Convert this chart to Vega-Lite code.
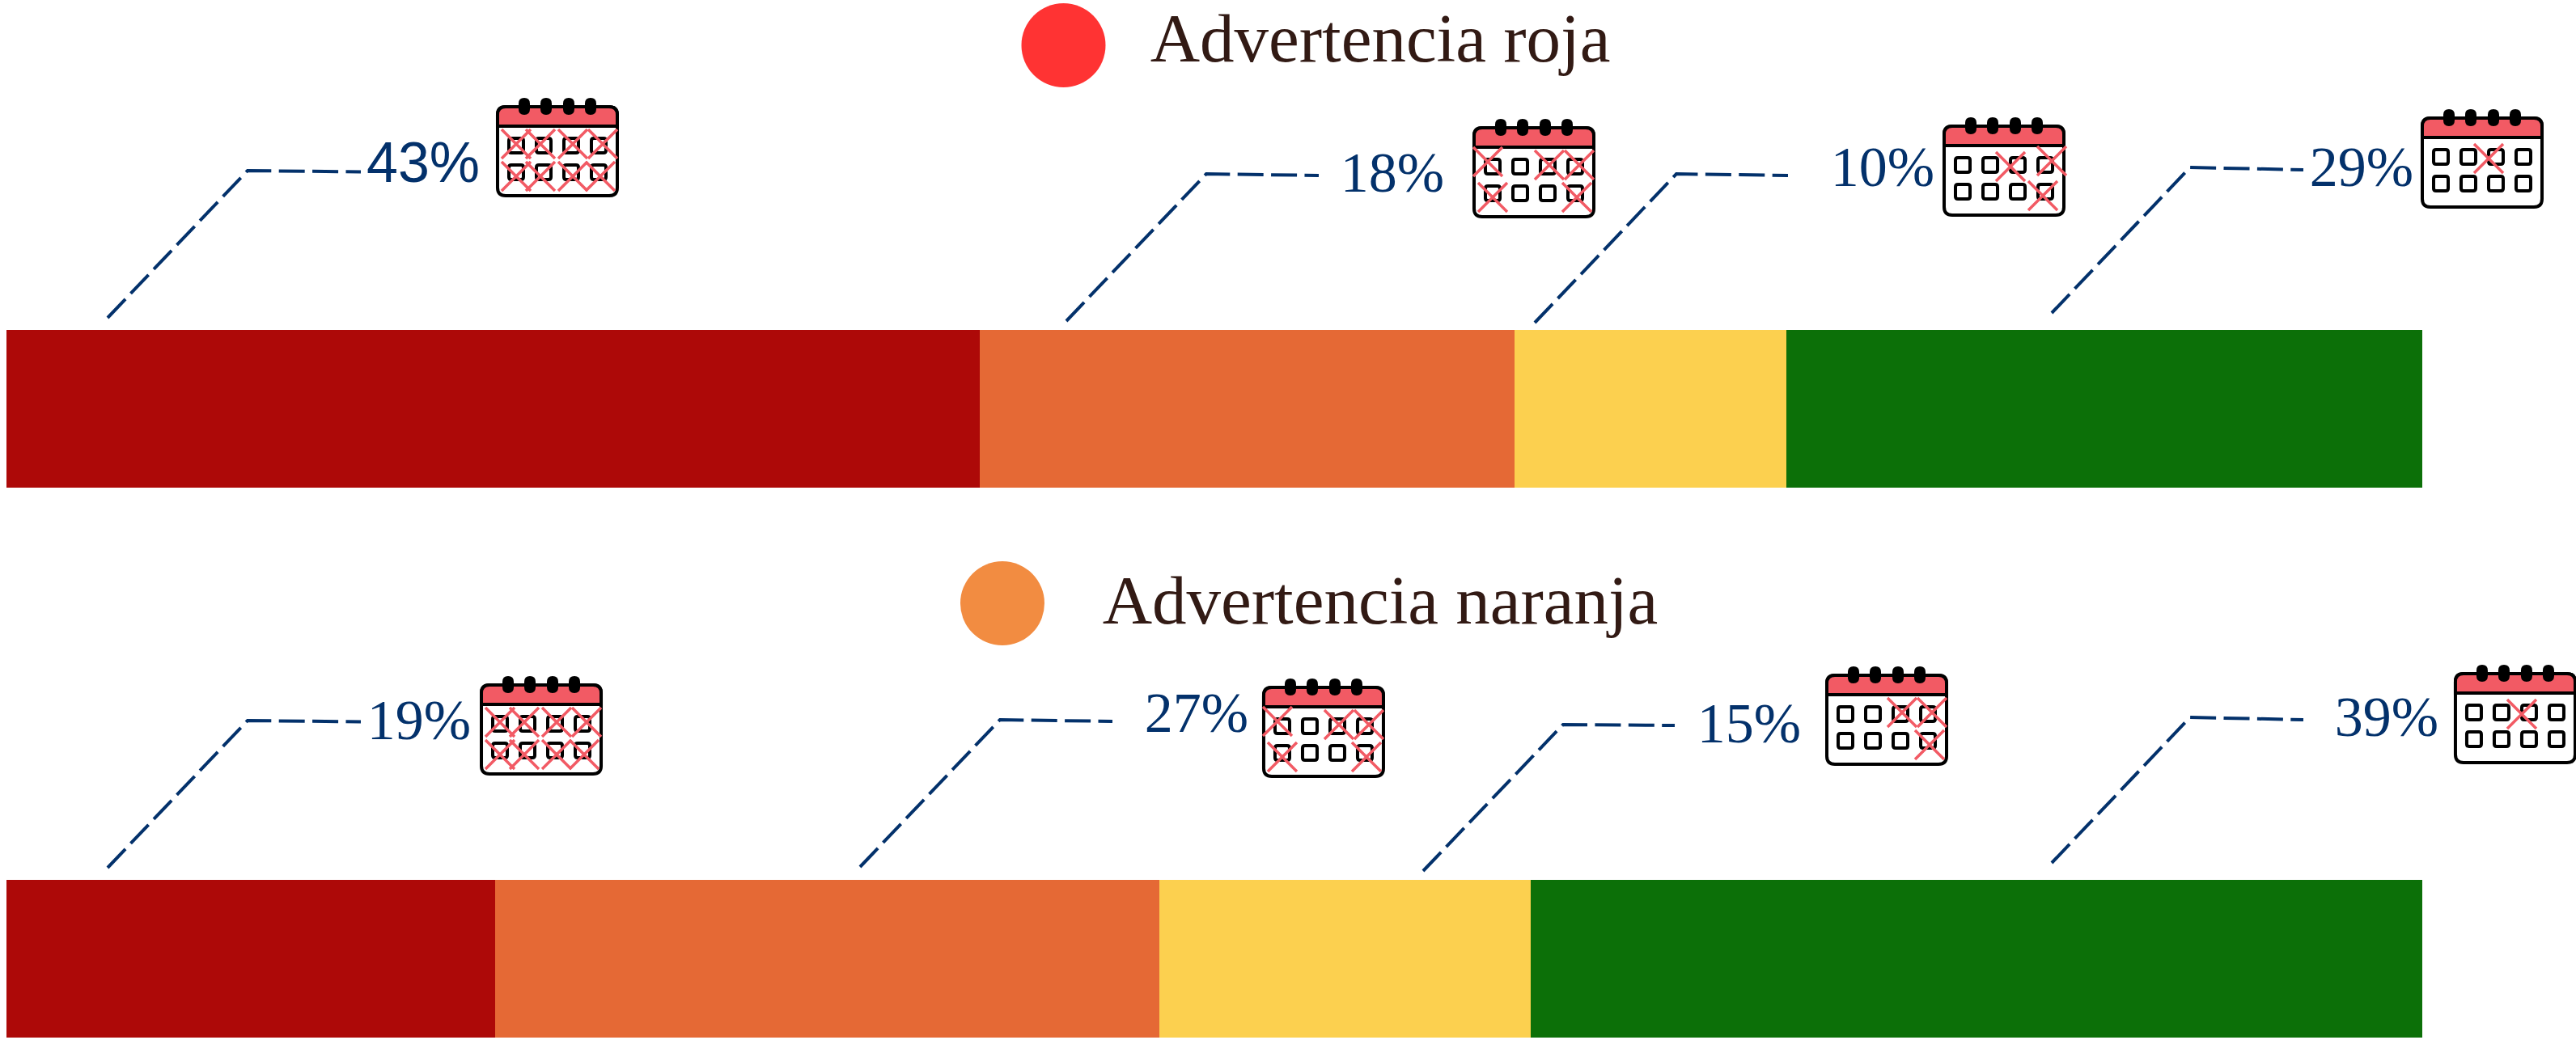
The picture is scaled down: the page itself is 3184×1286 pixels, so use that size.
{
"$schema":"https://vega.github.io/schema/vega-lite/v6.json",
"autosize":{"type":"none"},
"width":3184,"height":1286,"padding":0,"background":"#ffffff",
"config":{"view":{"stroke":null}},
"resolve":{"scale":{"color":"independent"}},
"datasets":{
"bars":[
{"group":"Advertencia roja","level":"rojo","start":0,"end":40.288,"top":408,"bottom":603},
{"group":"Advertencia roja","level":"naranja","start":40.288,"end":62.425,"top":408,"bottom":603},
{"group":"Advertencia roja","level":"amarillo","start":62.425,"end":73.677,"top":408,"bottom":603},
{"group":"Advertencia roja","level":"verde","start":73.677,"end":100,"top":408,"bottom":603},
{"group":"Advertencia naranja","level":"rojo","start":0,"end":20.228,"top":1088,"bottom":1283},
{"group":"Advertencia naranja","level":"naranja","start":20.228,"end":47.723,"top":1088,"bottom":1283},
{"group":"Advertencia naranja","level":"amarillo","start":47.723,"end":63.094,"top":1088,"bottom":1283},
{"group":"Advertencia naranja","level":"verde","start":63.094,"end":100,"top":1088,"bottom":1283}
],
"leaders":[
{"id":"r1","seq":1,"x":4.186,"y":393},{"id":"r1","seq":2,"x":9.98,"y":211},{"id":"r1","seq":3,"x":14.668,"y":212.5},
{"id":"r2","seq":1,"x":43.871,"y":397},{"id":"r2","seq":2,"x":49.665,"y":215},{"id":"r2","seq":3,"x":54.32,"y":217},
{"id":"r3","seq":1,"x":63.262,"y":399},{"id":"r3","seq":2,"x":69.123,"y":215},{"id":"r3","seq":3,"x":73.744,"y":217},
{"id":"r4","seq":1,"x":84.662,"y":387},{"id":"r4","seq":2,"x":90.388,"y":207},{"id":"r4","seq":3,"x":95.077,"y":210},
{"id":"n1","seq":1,"x":4.186,"y":1073},{"id":"n1","seq":2,"x":9.98,"y":891},{"id":"n1","seq":3,"x":14.668,"y":892.5},
{"id":"n2","seq":1,"x":35.332,"y":1072},{"id":"n2","seq":2,"x":41.125,"y":890},{"id":"n2","seq":3,"x":45.78,"y":892},
{"id":"n3","seq":1,"x":58.64,"y":1077},{"id":"n3","seq":2,"x":64.434,"y":896},{"id":"n3","seq":3,"x":69.056,"y":897},
{"id":"n4","seq":1,"x":84.662,"y":1067},{"id":"n4","seq":2,"x":90.388,"y":887},{"id":"n4","seq":3,"x":95.077,"y":890}
],
"heads":[
{"title":"Advertencia roja","dotX":43.754,"dotY":56,"x":56.865,"y":76,"kind":"roja"},
{"title":"Advertencia naranja","dotX":41.225,"dotY":746,"x":56.865,"y":771,"kind":"naranja"}
],
"labels":[
{"label":"43%","x":17.247,"y":199,"family":"sans"},
{"label":"18%","x":57.368,"y":212,"family":"serif"},
{"label":"10%","x":77.662,"y":205,"family":"serif"},
{"label":"29%","x":97.488,"y":205,"family":"serif"},
{"label":"19%","x":17.08,"y":889,"family":"serif"},
{"label":"27%","x":49.263,"y":880,"family":"serif"},
{"label":"15%","x":72.137,"y":893,"family":"serif"},
{"label":"39%","x":98.526,"y":885,"family":"serif"}
],
"calendars":[
{"cal":"43%","x":22.806,"y":187},
{"cal":"18%","x":63.228,"y":213},
{"cal":"10%","x":82.686,"y":211},
{"cal":"29%","x":102.478,"y":201},
{"cal":"19%","x":22.137,"y":902},
{"cal":"27%","x":54.52,"y":905},
{"cal":"15%","x":77.83,"y":890},
{"cal":"39%","x":103.85,"y":888}
],
"crossed":[
{"cal":"43%","x":22.806,"y":187,"day":"d1"},{"cal":"43%","x":22.806,"y":187,"day":"d2"},{"cal":"43%","x":22.806,"y":187,"day":"d3"},{"cal":"43%","x":22.806,"y":187,"day":"d4"},
{"cal":"43%","x":22.806,"y":187,"day":"d5"},{"cal":"43%","x":22.806,"y":187,"day":"d6"},{"cal":"43%","x":22.806,"y":187,"day":"d7"},{"cal":"43%","x":22.806,"y":187,"day":"d8"},
{"cal":"18%","x":63.228,"y":213,"day":"d1b"},{"cal":"18%","x":63.228,"y":213,"day":"d3"},{"cal":"18%","x":63.228,"y":213,"day":"d4"},{"cal":"18%","x":63.228,"y":213,"day":"d5"},{"cal":"18%","x":63.228,"y":213,"day":"d8"},
{"cal":"10%","x":82.686,"y":211,"day":"d3b"},{"cal":"10%","x":82.686,"y":211,"day":"d4b"},{"cal":"10%","x":82.686,"y":211,"day":"d8b"},
{"cal":"29%","x":102.478,"y":201,"day":"d3b"},
{"cal":"19%","x":22.137,"y":902,"day":"d1"},{"cal":"19%","x":22.137,"y":902,"day":"d2"},{"cal":"19%","x":22.137,"y":902,"day":"d3"},{"cal":"19%","x":22.137,"y":902,"day":"d4"},
{"cal":"19%","x":22.137,"y":902,"day":"d5"},{"cal":"19%","x":22.137,"y":902,"day":"d6"},{"cal":"19%","x":22.137,"y":902,"day":"d7"},{"cal":"19%","x":22.137,"y":902,"day":"d8"},
{"cal":"27%","x":54.52,"y":905,"day":"d1b"},{"cal":"27%","x":54.52,"y":905,"day":"d3"},{"cal":"27%","x":54.52,"y":905,"day":"d4"},{"cal":"27%","x":54.52,"y":905,"day":"d5"},{"cal":"27%","x":54.52,"y":905,"day":"d8"},
{"cal":"15%","x":77.83,"y":890,"day":"d3"},{"cal":"15%","x":77.83,"y":890,"day":"d4"},{"cal":"15%","x":77.83,"y":890,"day":"d8"},
{"cal":"39%","x":103.85,"y":888,"day":"d3b"}
]
},
"encoding":{
"x":{"type":"quantitative","axis":null,"scale":{"domain":[-0.2679,106.363],"nice":false,"zero":false}},
"y":{"type":"quantitative","axis":null,"scale":{"domain":[1286,0],"nice":false,"zero":false}}
},
"layer":[
{"data":{"name":"bars"},"mark":{"type":"rect"},
"encoding":{
"x":{"field":"start","type":"quantitative","axis":null,"scale":{"domain":[-0.2679,106.363],"nice":false,"zero":false}},
"x2":{"field":"end"},
"y":{"field":"top","type":"quantitative","axis":null,"scale":{"domain":[1286,0],"nice":false,"zero":false}},
"y2":{"field":"bottom"},
"color":{"field":"level","type":"nominal","legend":null,"scale":{"domain":["rojo","naranja","amarillo","verde"],"range":["#AD0908","#E56935","#FCD04F","#0C7008"]}}
}},
{"data":{"name":"leaders"},"mark":{"type":"line","color":"#03316B","strokeWidth":4,"strokeDash":[32,9.4],"strokeCap":"butt","strokeJoin":"miter"},
"encoding":{"x":{"field":"x"},"y":{"field":"y"},"detail":{"field":"id"},"order":{"field":"seq"}}},
{"data":{"name":"heads"},"mark":{"type":"point","filled":true,"opacity":1,"size":10816,"shape":"circle"},
"encoding":{"x":{"field":"dotX"},"y":{"field":"dotY"},
"color":{"field":"kind","type":"nominal","legend":null,"scale":{"domain":["roja","naranja"],"range":["#FF3333","#F28C41"]}}}},
{"data":{"name":"heads"},"mark":{"type":"text","font":"Liberation Serif","fontSize":85,"color":"#321A14","align":"center","baseline":"alphabetic"},
"encoding":{"x":{"field":"x"},"y":{"field":"y"},"text":{"field":"title"}}},
{"data":{"name":"labels"},"transform":[{"filter":"datum.family === 'serif'"}],"mark":{"type":"text","font":"Liberation Serif","fontSize":70,"dy":4,"color":"#03316B","align":"center","baseline":"middle"},
"encoding":{"x":{"field":"x"},"y":{"field":"y"},"text":{"field":"label"}}},
{"data":{"name":"labels"},"transform":[{"filter":"datum.family === 'sans'"}],"mark":{"type":"text","font":"Liberation Sans","fontSize":70,"dy":5,"color":"#03316B","align":"center","baseline":"middle"},
"encoding":{"x":{"field":"x"},"y":{"field":"y"},"text":{"field":"label"}}},
{"data":{"name":"calendars"},"mark":{"type":"point","filled":true,"opacity":1,"size":4,"fill":"#ffffff","stroke":"#000000","strokeWidth":4,
"shape":"M-64,-55L64,-55Q74,-55 74,-45L74,45Q74,55 64,55L-64,55Q-74,55 -74,45L-74,-45Q-74,-55 -64,-55Z"},
"encoding":{"x":{"field":"x"},"y":{"field":"y"}}},
{"data":{"name":"calendars"},"mark":{"type":"point","filled":true,"opacity":1,"size":4,"fill":"#F25A64","stroke":"#000000","strokeWidth":4,
"shape":"M-74,-31L-74,-45Q-74,-55 -64,-55L64,-55Q74,-55 74,-45L74,-31Z"},
"encoding":{"x":{"field":"x"},"y":{"field":"y"}}},
{"data":{"name":"calendars"},"mark":{"type":"point","filled":true,"opacity":1,"size":4,"fill":"#000000","strokeWidth":0,
"shape":"M-48,-59Q-48,-66 -41,-66Q-34,-66 -34,-59L-34,-52Q-34,-45 -41,-45Q-48,-45 -48,-52ZM-21,-59Q-21,-66 -14,-66Q-7,-66 -7,-59L-7,-52Q-7,-45 -14,-45Q-21,-45 -21,-52ZM7,-59Q7,-66 14,-66Q21,-66 21,-59L21,-52Q21,-45 14,-45Q7,-45 7,-52ZM34,-59Q34,-66 41,-66Q48,-66 48,-59L48,-52Q48,-45 41,-45Q34,-45 34,-52Z"},
"encoding":{"x":{"field":"x"},"y":{"field":"y"}}},
{"data":{"name":"calendars"},"mark":{"type":"point","filled":false,"opacity":1,"size":4,"stroke":"#000000","strokeWidth":4,
"shape":"M-57,-16L-45,-16Q-42,-16 -42,-13L-42,-1Q-42,2 -45,2L-57,2Q-60,2 -60,-1L-60,-13Q-60,-16 -57,-16ZM-23,-16L-11,-16Q-8,-16 -8,-13L-8,-1Q-8,2 -11,2L-23,2Q-26,2 -26,-1L-26,-13Q-26,-16 -23,-16ZM11,-16L23,-16Q26,-16 26,-13L26,-1Q26,2 23,2L11,2Q8,2 8,-1L8,-13Q8,-16 11,-16ZM45,-16L57,-16Q60,-16 60,-13L60,-1Q60,2 57,2L45,2Q42,2 42,-1L42,-13Q42,-16 45,-16ZM-57,17L-45,17Q-42,17 -42,20L-42,32Q-42,35 -45,35L-57,35Q-60,35 -60,32L-60,20Q-60,17 -57,17ZM-23,17L-11,17Q-8,17 -8,20L-8,32Q-8,35 -11,35L-23,35Q-26,35 -26,32L-26,20Q-26,17 -23,17ZM11,17L23,17Q26,17 26,20L26,32Q26,35 23,35L11,35Q8,35 8,32L8,20Q8,17 11,17ZM45,17L57,17Q60,17 60,20L60,32Q60,35 57,35L45,35Q42,35 42,32L42,20Q42,17 45,17Z"},
"encoding":{"x":{"field":"x"},"y":{"field":"y"}}},
{"data":{"name":"crossed"},"mark":{"type":"point","filled":false,"opacity":1,"size":4,"stroke":"#F25A64","strokeWidth":3.5},
"encoding":{"x":{"field":"x"},"y":{"field":"y"},
"shape":{"field":"day","type":"nominal","legend":null,"scale":{
"domain":["d1","d2","d3","d4","d5","d6","d7","d8","d1b","d3b","d4b","d8b"],
"range":[
"M-69,-27L-33,9M-69,9L-33,-27",
"M-39,-27L-3,9M-39,9L-3,-27",
"M1,-27L37,9M1,9L37,-27",
"M38,-27L74,9M38,9L74,-27",
"M-69,13L-33,49M-69,49L-33,13",
"M-39,13L-3,49M-39,49L-3,13",
"M1,13L37,49M1,49L37,13",
"M35,13L71,49M35,49L71,13",
"M-75,-31L-39,5M-75,5L-39,-31",
"M-10,-23L26,13M-10,13L26,-23",
"M41,-30L77,6M41,6L77,-30",
"M30,13L66,49M30,49L66,13"
]}}}}
]
}
